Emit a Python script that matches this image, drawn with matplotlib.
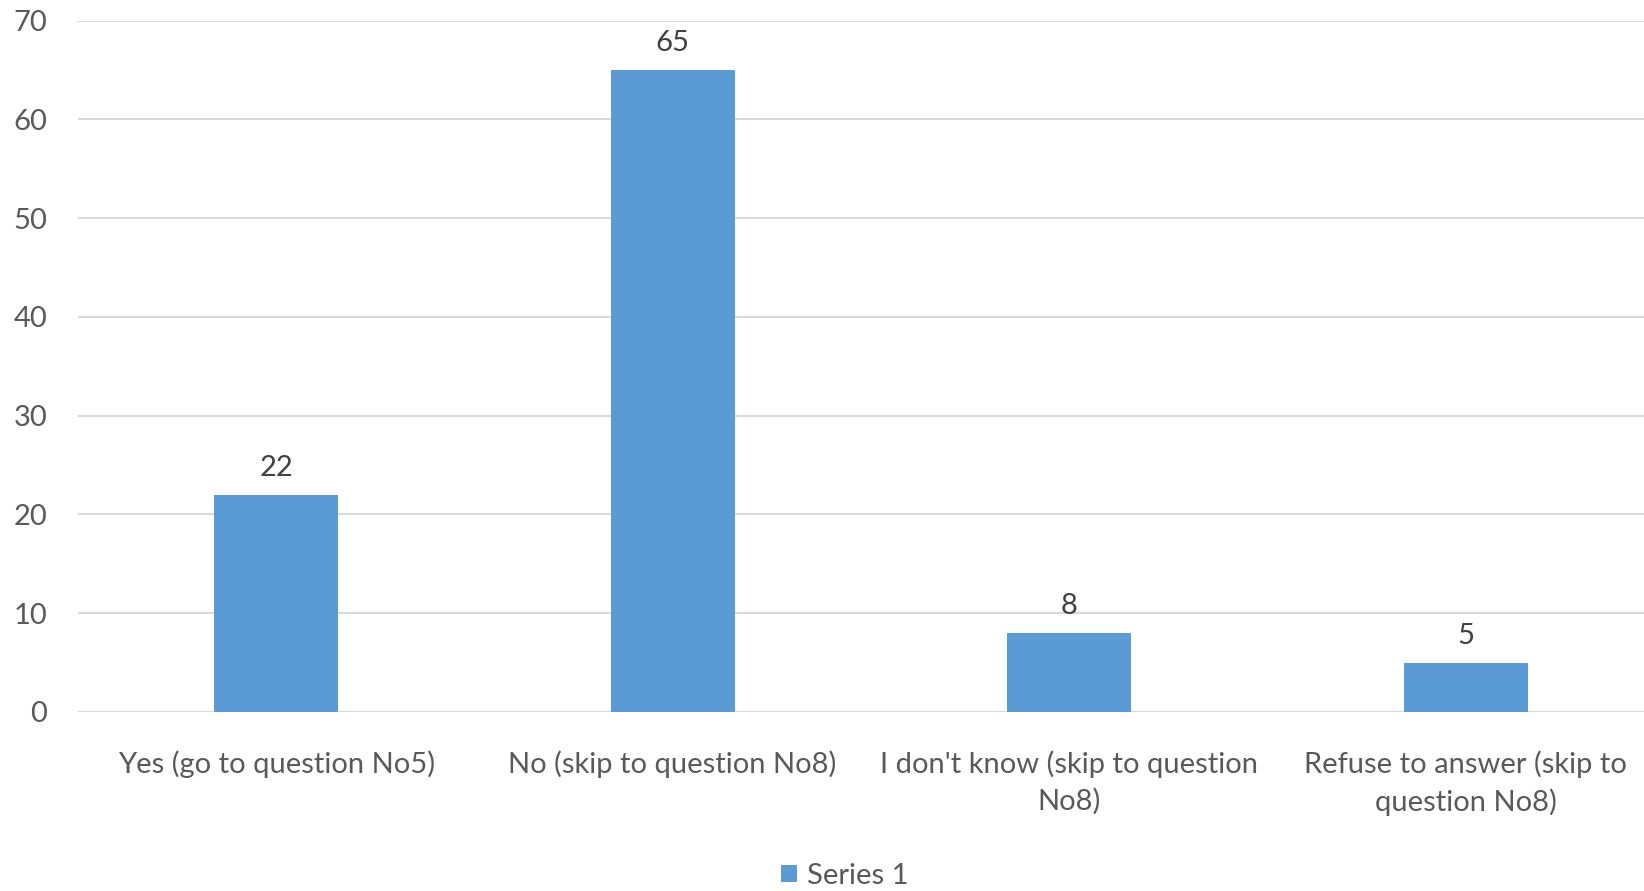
import numpy as np
import matplotlib
matplotlib.use("Agg")
from matplotlib import pyplot as plt

# dados
categorias = ["Yes (go to question No5)",
              "No (skip to question No8)",
              "I don't know (skip to question\nNo8)",
              "Refuse to answer (skip to\nquestion No8)"]
valores = [22, 65, 8, 5]
serie = "Series 1"
yticks = [0, 10, 20, 30, 40, 50, 60, 70]

plt.rcParams['font.family'] = ['Lato', 'DejaVu Sans']

fig = plt.figure(figsize=(16.44, 8.91), dpi=100)
ax = fig.add_axes([78/1644, 179/891, 1566/1644, 691.3/891])

x = np.arange(len(categorias))
barras = ax.bar(x, valores, width=0.313, color='#5B9BD5', label=serie, zorder=3)

for xi, v in zip(x, valores):
    ax.annotate(str(v), (xi, v), xytext=(0, 10), textcoords='offset points',
                ha='center', va='bottom', fontsize=21, color='#404040')

ax.set_xlim(-0.5, 3.45)
ax.set_ylim(0, 70)
ax.set_yticks(yticks)
ax.set_xticks(x)
ax.set_xticklabels(categorias, fontsize=21, color='#595959', linespacing=1.45)
ax.tick_params(axis='y', labelsize=21, labelcolor='#595959', length=0, pad=22)
ax.tick_params(axis='x', length=0, pad=28)
ax.grid(axis='y', color='#D9D9D9', linewidth=1.5, zorder=0)
for s in ax.spines.values():
    s.set_visible(False)

fig.legend(handles=[barras], labels=[serie], loc='center', bbox_to_anchor=(0.514, 1 - 876/891),
           frameon=False, fontsize=21, labelcolor='#595959', handlelength=0.55,
           handleheight=0.55, handletextpad=0.35)

plt.savefig('out.png', dpi=100)
